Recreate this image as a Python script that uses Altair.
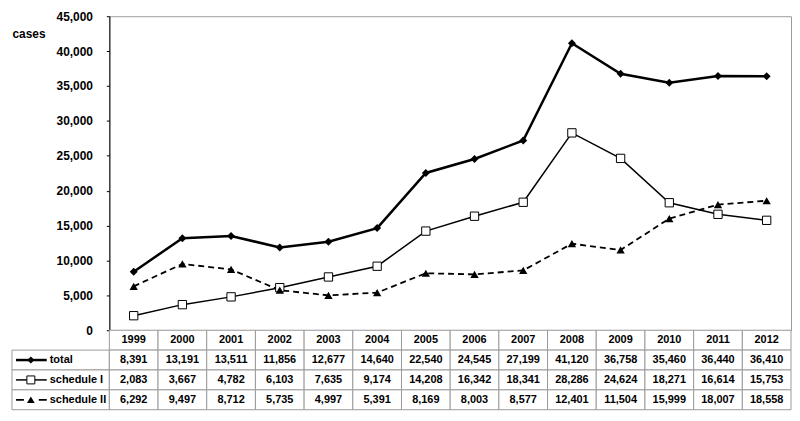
import altair as alt
import pandas as pd

years = ["1999", "2000", "2001", "2002", "2003", "2004", "2005",
         "2006", "2007", "2008", "2009", "2010", "2011", "2012"]
total = [8391, 13191, 13511, 11856, 12677, 14640, 22540, 24545, 27199, 41120, 36758, 35460, 36440, 36410]
schedule_1 = [2083, 3667, 4782, 6103, 7635, 9174, 14208, 16342, 18341, 28286, 24624, 18271, 16614, 15753]
schedule_2 = [6292, 9497, 8712, 5735, 4997, 5391, 8169, 8003, 8577, 12401, 11504, 15999, 18007, 18558]
series_names = ["total", "schedule I", "schedule II"]
y_ticks = [0, 5000, 10000, 15000, 20000, 25000, 30000, 35000, 40000, 45000]

FONT = "Liberation Sans"
GRID = "#9a9a9a"
LABEL_W = 98
TABLE_W = 686
PLOT_H = 316
ROW_H = 20
row_domain = ["year"] + series_names

rows = []
for name, vals in zip(series_names, [total, schedule_1, schedule_2]):
    for y, v in zip(years, vals):
        rows.append({"year": y, "series": name, "value": v})
df = pd.DataFrame(rows)

xs_point = alt.X("year:O", scale=alt.Scale(type="point", padding=0.5, domain=years), axis=None)
ys = alt.Y("value:Q",
           scale=alt.Scale(domain=[0, 45000], nice=False, zero=True),
           axis=alt.Axis(values=y_ticks, format=",d", grid=False,
                         labelFont=FONT, labelFontSize=12, labelFontWeight="bold",
                         labelColor="black", domainColor="black", tickColor="black",
                         tickSize=3, labelPadding=14,
                         title="cases", titleAngle=0, titleX=-LABEL_W, titleY=17,
                         titleAlign="left", titleBaseline="middle",
                         titleFont=FONT, titleFontSize=12, titleFontWeight="bold"))

base = alt.Chart(df).encode(x=xs_point, y=ys)

total_line = base.transform_filter(alt.datum.series == "total").mark_line(color="black", strokeWidth=2.5)
total_pts = base.transform_filter(alt.datum.series == "total").mark_point(
    shape="diamond", filled=True, color="black", size=64, opacity=1)
s1_line = base.transform_filter(alt.datum.series == "schedule I").mark_line(color="black", strokeWidth=1.5)
s1_pts = base.transform_filter(alt.datum.series == "schedule I").mark_point(
    shape="square", filled=True, fill="white", stroke="black", strokeWidth=1, size=70, opacity=1)
s2_line = base.transform_filter(alt.datum.series == "schedule II").mark_line(
    color="black", strokeWidth=1.8, strokeDash=[6, 4])
s2_pts = base.transform_filter(alt.datum.series == "schedule II").mark_point(
    shape="triangle-up", filled=True, color="black", size=70, opacity=1)

line_chart = alt.layer(total_line, s1_line, s2_line, total_pts, s1_pts, s2_pts).properties(
    width=TABLE_W, height=PLOT_H, view=alt.ViewBackground(stroke=GRID, strokeWidth=1))

# placeholder top-left cell
placeholder = alt.Chart(pd.DataFrame({"v": [0]})).mark_point(opacity=0).encode(
    x=alt.value(0), y=alt.value(0)).properties(width=LABEL_W, height=PLOT_H)

# data table
tab_rows = []
for y in years:
    tab_rows.append({"year": y, "row": "year", "text": y})
for name, vals in zip(series_names, [total, schedule_1, schedule_2]):
    for y, v in zip(years, vals):
        tab_rows.append({"year": y, "row": name, "text": f"{v:,}"})
tdf = pd.DataFrame(tab_rows)

xb = alt.X("year:N", scale=alt.Scale(type="band", domain=years, paddingInner=0, paddingOuter=0), axis=None)
yb = alt.Y("row:N", scale=alt.Scale(type="band", domain=row_domain, paddingInner=0, paddingOuter=0), axis=None)

tbase = alt.Chart(tdf).encode(x=xb, y=yb)
cells = tbase.mark_rect(fill="white", stroke=GRID, strokeWidth=1)
texts = tbase.mark_text(font=FONT, fontSize=11, fontWeight="bold", color="black").encode(text="text:N")
table = alt.layer(cells, texts).properties(width=TABLE_W, height=ROW_H * 4)

# label column (legend keys)
ldf = pd.DataFrame({"row": series_names})
lbase = alt.Chart(ldf).encode(y=yb)
lcells = lbase.mark_rect(fill="white", stroke=GRID, strokeWidth=1).encode(x=alt.value(0), x2=alt.value(LABEL_W))
k_total = lbase.transform_filter(alt.datum.row == "total").mark_rule(color="black", strokeWidth=2.5).encode(
    x=alt.value(4), x2=alt.value(35))
k_total_p = lbase.transform_filter(alt.datum.row == "total").mark_point(
    shape="diamond", filled=True, color="black", size=50, opacity=1).encode(x=alt.value(19))
k_s1 = lbase.transform_filter(alt.datum.row == "schedule I").mark_rule(color="black", strokeWidth=1.5).encode(
    x=alt.value(4), x2=alt.value(35))
k_s1_p = lbase.transform_filter(alt.datum.row == "schedule I").mark_point(
    shape="square", filled=True, fill="white", stroke="black", strokeWidth=1, size=64, opacity=1).encode(x=alt.value(19))
k_s2 = lbase.transform_filter(alt.datum.row == "schedule II").mark_rule(
    color="black", strokeWidth=1.8, strokeDash=[8, 15]).encode(x=alt.value(4), x2=alt.value(35))
k_s2_p = lbase.transform_filter(alt.datum.row == "schedule II").mark_point(
    shape="triangle-up", filled=True, color="black", size=60, opacity=1).encode(x=alt.value(19))
ltext = lbase.mark_text(font=FONT, fontSize=11, fontWeight="bold", color="black", align="left").encode(
    x=alt.value(38), text="row:N")

labels = alt.layer(lcells, k_total, k_s1, k_s2, k_total_p, k_s1_p, k_s2_p, ltext).properties(
    width=LABEL_W, height=ROW_H * 4)

chart = alt.concat(placeholder, line_chart, labels, table, columns=2, spacing=0).properties(
    bounds="flush", padding=0, background="white"
).resolve_scale(x="independent", y="independent").configure_view(stroke="transparent")

chart.save("out.html", embed_options={"renderer": "svg", "actions": False})
